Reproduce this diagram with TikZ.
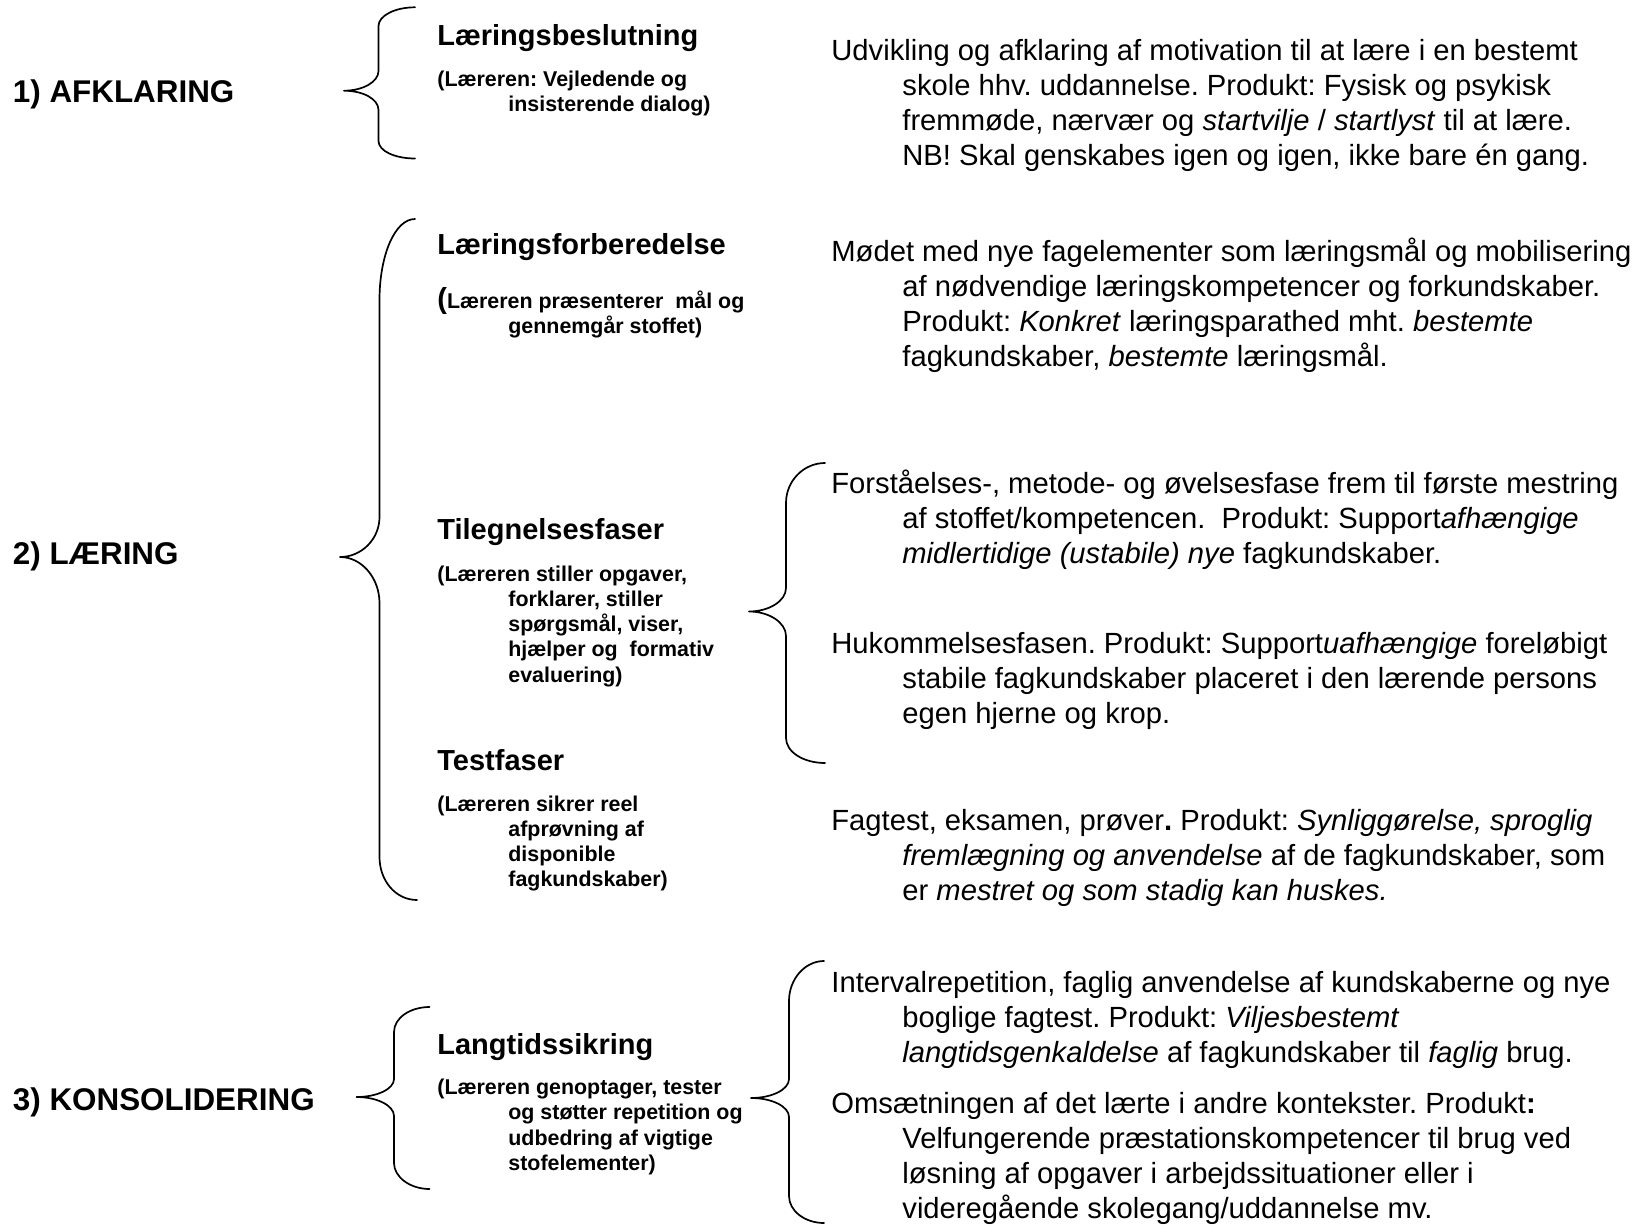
\documentclass[tikz,border=0pt]{standalone}
\usepackage{fontspec}
\setmainfont{Liberation Sans}
\frenchspacing
\newcommand\ind{\hspace*{35.5pt}}
\begin{document}
\begin{tikzpicture}[x=0.5pt,y=-0.5pt,
  phase/.style={anchor=base west, inner sep=0, font=\fontsize{15.7}{18}\selectfont\bfseries},
  heading/.style={anchor=base west, inner sep=0, font=\fontsize{14.5}{17}\selectfont\bfseries},
  note/.style={anchor=base west, inner sep=0, align=left, font=\fontsize{10.7}{12.65}\selectfont\bfseries},
  desc/.style={anchor=base west, inner sep=0, align=left, font=\fontsize{14.6}{17.6}\selectfont},
  brace/.style={draw=black, line width=0.85pt, line join=round, line cap=round}]
\useasboundingbox (0,0) rectangle (1635,1226);

% phases
\node[phase] (p1) at (12.5,102) {1) AFKLARING};
\node[phase] (p2) at (12.5,564) {2) LÆRING};
\node[phase] (p3) at (12.5,1110) {3) KONSOLIDERING};

% braces
\draw[brace] (415,7.3) .. controls (395,7.3) and (378.5,15.7) .. (378.5,26)
  -- (378.5,71) .. controls (378.5,81.8) and (363,90.7) .. (344,90.7)
  .. controls (363,90.7) and (378.5,99) .. (378.5,110)
  -- (378.5,141) .. controls (378.5,151) and (395,158.5) .. (415,158.5);
\draw[brace] (415,219) .. controls (395,219) and (379.5,255) .. (379.5,300)
  -- (379.5,517) .. controls (379.5,539) and (361.7,557) .. (340,557)
  .. controls (361.7,557) and (379.5,578) .. (379.5,603)
  -- (379.5,857) .. controls (379.5,880.6) and (395.6,900) .. (417,900);
\draw[brace] (429.6,1007) .. controls (410,1007) and (394,1018) .. (394,1032)
  -- (394,1079) .. controls (394,1089) and (377,1097) .. (356.6,1097)
  .. controls (377,1097) and (394,1105.5) .. (394,1116)
  -- (394,1163) .. controls (394,1177) and (410,1189) .. (429.6,1189);
\draw[brace] (825,463) .. controls (803.5,463) and (786,481) .. (786,503)
  -- (786,588) .. controls (786,601) and (769,611.5) .. (749,611.5)
  .. controls (769,611.5) and (786,622.5) .. (786,636)
  -- (786,738) .. controls (786,752) and (803.5,763) .. (825,763);
\draw[brace] (824,961) .. controls (805,961) and (789,979) .. (789,1001)
  -- (789,1079) .. controls (789,1089.5) and (772,1098) .. (751,1098)
  .. controls (772,1098) and (789,1106.5) .. (789,1117)
  -- (789,1196) .. controls (789,1211) and (805,1223) .. (824,1223);

% headings and notes (note nodes are anchored at the baseline of their last line)
\node[heading] (h1) at (437,46) {Læringsbeslutning};
\node[note] (n1) at (437,111.3) {(Læreren: Vejledende og\\\ind insisterende dialog)};
\node[heading] (h2) at (437,254) {Læringsforberedelse};
\node[note] (n2) at (437,333.3) {{\fontsize{14.5}{12}\selectfont(}Læreren præsenterer~ mål og\\\ind gennemgår stoffet)};
\node[heading] (h3) at (437,539) {Tilegnelsesfaser};
\node[note] (n3) at (437,682.2) {(Læreren stiller opgaver,\\\ind forklarer, stiller\\\ind spørgsmål, viser,\\\ind hjælper og~ formativ\\\ind evaluering)};
\node[heading] (h4) at (437,770) {Testfaser};
\node[note] (n4) at (437,886.9) {(Læreren sikrer reel\\\ind afprøvning af\\\ind disponible\\\ind fagkundskaber)};
\node[heading] (h5) at (437,1054) {Langtidssikring};
\node[note] (n5) at (437,1170.4) {(Læreren genoptager, tester\\\ind og støtter repetition og\\\ind udbedring af vigtige\\\ind stofelementer)};

% descriptions (anchored at the baseline of their last line)
\node[desc] (d1) at (831,165.6) {Udvikling og afklaring af motivation til at lære i en bestemt\\
\ind skole hhv. uddannelse. Produkt: Fysisk og psykisk\\
\ind fremmøde, nærvær og \textit{startvilje} / \textit{startlyst} til at lære.\\
\ind NB! Skal genskabes igen og igen, ikke bare én gang.};
\node[desc] (d2) at (831,366.6) {Mødet med nye fagelementer som læringsmål og mobilisering\\
\ind af nødvendige læringskompetencer og forkundskaber.\\
\ind Produkt: \textit{Konkret} læringsparathed mht. \textit{bestemte}\\
\ind fagkundskaber, \textit{bestemte} læringsmål.};
\node[desc] (d3) at (831,563.4) {Forståelses-, metode- og øvelsesfase frem til første mestring\\
\ind af stoffet/kompetencen.~ Produkt: Support\textit{afhængige}\\
\ind \textit{midlertidige (ustabile) nye} fagkundskaber.};
\node[desc] (d4) at (831,723.4) {Hukommelsesfasen. Produkt: Support\textit{uafhængige} foreløbigt\\
\ind stabile fagkundskaber placeret i den lærende persons\\
\ind egen hjerne og krop.};
\node[desc] (d5) at (831,900.4) {Fagtest, eksamen, prøver\textbf{.} Produkt: \textit{Synliggørelse, sproglig}\\
\ind \textit{fremlægning og anvendelse} af de fagkundskaber, som\\
\ind er \textit{mestret og som stadig kan huskes.}};
\node[desc] (d6) at (831,1062.4) {Intervalrepetition, faglig anvendelse af kundskaberne og nye\\
\ind boglige fagtest. Produkt: \textit{Viljesbestemt}\\
\ind \textit{langtidsgenkaldelse} af fagkundskaber til \textit{faglig} brug.};
\node[desc] (d7) at (831,1218.6) {Omsætningen af det lærte i andre kontekster. Produkt\textbf{:}\\
\ind Velfungerende præstationskompetencer til brug ved\\
\ind løsning af opgaver i arbejdssituationer eller i\\
\ind videregående skolegang/uddannelse mv.};
\end{tikzpicture}
\end{document}
